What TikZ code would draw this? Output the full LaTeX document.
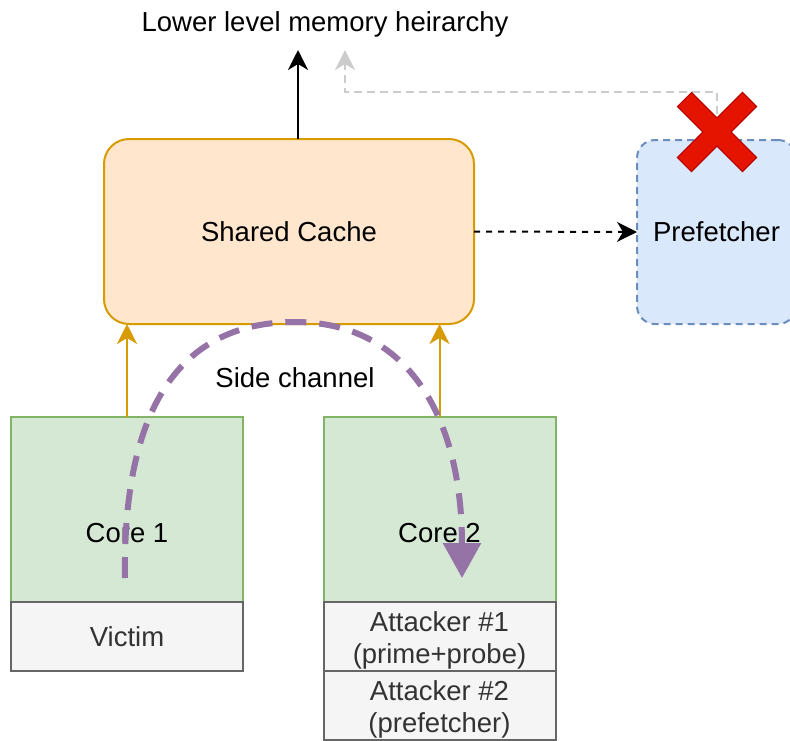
\documentclass[tikz,border=0pt]{standalone}
\usepackage{fontspec}
\setmainfont{Liberation Sans}
\usetikzlibrary{positioning,arrows.meta}
\definecolor{cachefill}{HTML}{FFE6CC}
\definecolor{cachedraw}{HTML}{D79B00}
\definecolor{corefill}{HTML}{D5E8D4}
\definecolor{coredraw}{HTML}{82B366}
\definecolor{procfill}{HTML}{F5F5F5}
\definecolor{procdraw}{HTML}{666666}
\definecolor{proctext}{HTML}{333333}
\definecolor{preffill}{HTML}{DAE8FC}
\definecolor{prefdraw}{HTML}{6C8EBF}
\definecolor{leakline}{HTML}{9673A6}
\definecolor{crossfill}{HTML}{E51400}
\definecolor{crossdraw}{HTML}{B20000}
\definecolor{fadeline}{HTML}{CCCCCC}

\begin{document}
\begin{tikzpicture}[x=1pt, y=-1pt,
    font=\fontsize{27.5}{32}\selectfont,
    >={Stealth[length=20pt, width=20pt, inset=6pt]},
    every node/.style={align=center, inner sep=0pt},
    box/.style={line width=2pt, outer sep=0pt},
    cache/.style={box, draw=cachedraw, fill=cachefill, rounded corners=25pt,
                  minimum width=370pt, minimum height=185pt},
    core/.style={box, draw=coredraw, fill=corefill, minimum width=232pt, minimum height=185pt},
    proc/.style={box, draw=procdraw, fill=procfill, text=proctext,
                 minimum width=232pt, minimum height=69pt},
    pref/.style={box, draw=prefdraw, fill=preffill, dash pattern=on 7pt off 5pt,
                 rounded corners=18pt, minimum width=159pt, minimum height=184pt},
    feed/.style={->, line width=2pt, cachedraw},
    fade/.style={->, line width=2pt, fadeline, dash pattern=on 8pt off 5pt},
    leak/.style={line width=6pt, leakline, dash pattern=on 21pt off 13pt,
                 -{Triangle[length=35pt, width=37pt]}}]
  \useasboundingbox (0,0) rectangle (790,740);

  % cache, prefetcher and the cores below
  \node[cache] (cache) at (289,231.5) {Shared Cache};
  \node[pref] (pref) at (716.5,232) {Prefetcher};
  \node[core, label={[yshift=-23.5pt]center:Core 1}] (core1) at (127,509.5) {};
  \node[proc, below=0pt of core1] (victim) {Victim};
  \node[core, label={[yshift=-23.5pt]center:Core 2}] (core2) at (439.5,509.5) {};
  \node[proc, below=0pt of core2, text height=60pt] (att1) {Attacker \#1\\(prime+probe)};
  \node[proc, below=0pt of att1, text height=60pt] (att2) {Attacker \#2\\(prefetcher)};

  \node (lower) at (325,24) {Lower level memory heirarchy};
  \coordinate (memtop) at (298,50);
  \coordinate (gturn) at (345,92);
  \coordinate (gtop) at (345,50);

  \draw[->, line width=2pt] (memtop |- cache.north) -- (memtop);
  \draw[fade] (pref.north) |- (gturn) -- (gtop);
  \draw[->, line width=2pt, dash pattern=on 6pt off 6pt] (cache.east) -- (pref.west);
  \draw[feed] (core1.north) -- (core1.north |- cache.south);
  \draw[feed] (core2.north) -- (core2.north |- cache.south);

  % disabled prefetch path
  \begin{scope}[shift={(717,132)}, rotate=45]
    \filldraw[fill=crossfill, draw=crossdraw, line width=1pt]
      (-46,-10) -- (-10,-10) -- (-10,-46) -- (10,-46) -- (10,-10) -- (46,-10)
      -- (46,10) -- (10,10) -- (10,46) -- (-10,46) -- (-10,10) -- (-46,10) -- cycle;
  \end{scope}

  % side channel from victim to attacker
  \coordinate (leak) at (125,578);
  \coordinate (probe) at (462,578);
  \draw[leak] (leak) .. controls (123,440) and (160,322) .. (295,322)
    .. controls (410,322) and (462,420) .. (probe);
  \node (side) at (295,378) {Side channel};
\end{tikzpicture}
\end{document}
